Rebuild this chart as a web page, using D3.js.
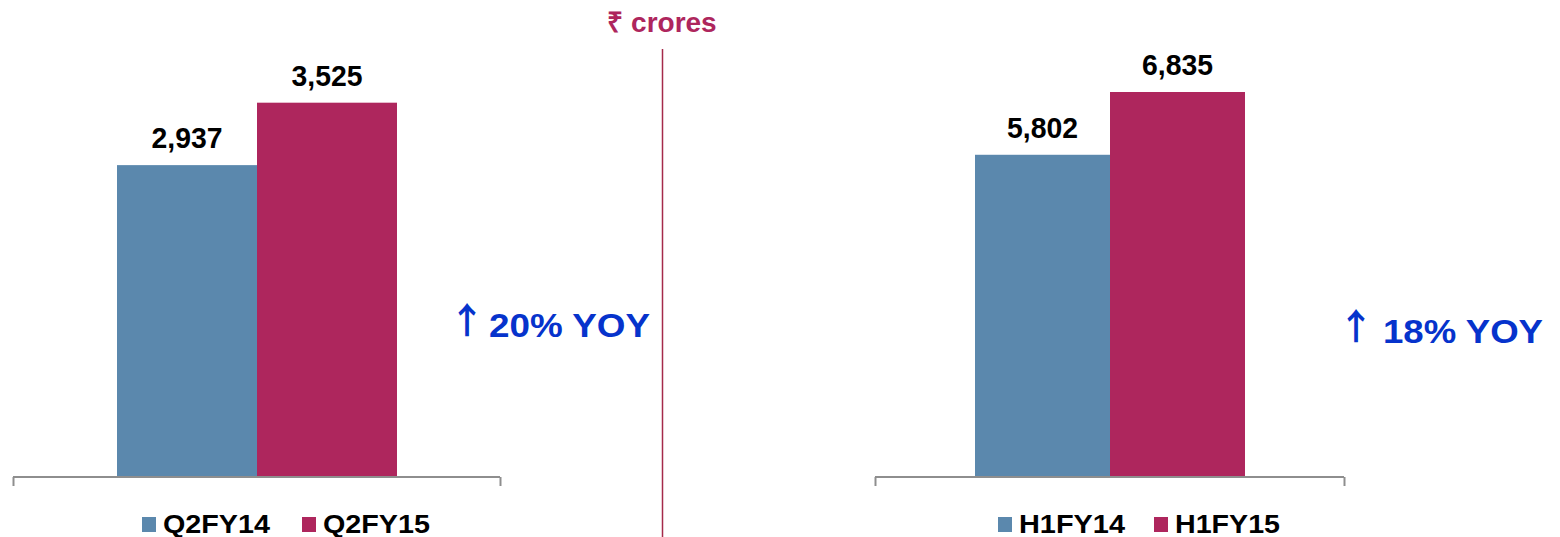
<!DOCTYPE html>
<html><head><meta charset="utf-8">
<script src="https://cdn.jsdelivr.net/npm/d3@7/dist/d3.min.js"></script>
<style>
html,body{margin:0;padding:0;background:#fff;}
svg{display:block;font-family:"Liberation Sans",Arial,sans-serif;}
</style></head>
<body>
<svg id="chart" width="1560" height="537"></svg>
<script>
// ---- data ----
const quarterCategories = ["Q2FY14", "Q2FY15"];
const quarterValues = [2937, 3525];
const halfCategories = ["H1FY14", "H1FY15"];
const halfValues = [5802, 6835];
const growthLabels = ["20% YOY", "18% YOY"];
const growthArrow = "↑";
const unitLabel = "₹ crores";

// ---- styles ----
const seriesColors = ["#5B88AD", "#AE265D"];
const accent = "#AE265D";
const growthColor = "#0633CC";
const axisColor = "#8E8E8E";

const svg = d3.select("#chart");
const baseY = 477, topY = 48;

const panels = [
  { cats: quarterCategories, vals: quarterValues, growth: growthLabels[0],
    axis: [13, 500], bars: [117, 397], yDomain: [0, 4040],
    legendX: [142, 302], legendLen: [107, 107],
    arrowX: 467, growthX: 489, growthY: 337, growthLen: 161 },
  { cats: halfCategories, vals: halfValues, growth: growthLabels[1],
    axis: [875, 1344], bars: [975, 1245], yDomain: [500, 7559],
    legendX: [998, 1154], legendLen: [106, 105],
    arrowX: 1356, growthX: 1383, growthY: 343, growthLen: 160 }
];

panels.forEach(p => {
  const x = d3.scaleBand().domain(p.cats).range(p.bars).padding(0);
  const y = d3.scaleLinear().domain(p.yDomain).range([baseY, topY]);
  const color = d3.scaleOrdinal().domain(p.cats).range(seriesColors);
  const data = p.cats.map((c, i) => ({ cat: c, val: p.vals[i] }));
  const g = svg.append("g");

  g.selectAll("rect.bar").data(data).join("rect")
    .attr("class", "bar")
    .attr("x", d => x(d.cat))
    .attr("width", x.bandwidth())
    .attr("y", d => y(d.val))
    .attr("height", d => y(p.yDomain[0]) - y(d.val))
    .attr("fill", d => color(d.cat));

  g.selectAll("text.val").data(data).join("text")
    .attr("class", "val")
    .attr("x", d => x(d.cat) + x.bandwidth() / 2)
    .attr("y", d => y(d.val) - 17)
    .attr("text-anchor", "middle")
    .attr("font-size", 30).attr("font-weight", "bold").attr("fill", "#000")
    .attr("textLength", 71).attr("lengthAdjust", "spacingAndGlyphs")
    .text(d => d3.format(",")(d.val));

  // axis line with end ticks
  const ax = d3.scaleLinear().domain([0, 1]).range(p.axis);
  const axisG = g.append("g").attr("transform", `translate(0,${baseY})`)
    .call(d3.axisBottom(ax).tickValues([0, 1]).tickSize(9).tickFormat(""));
  axisG.select(".domain").attr("stroke", axisColor).attr("stroke-width", 2)
    .attr("d", `M${p.axis[0]},0H${p.axis[1]}`);
  axisG.selectAll(".tick line").attr("stroke", axisColor).attr("stroke-width", 2);

  // legend
  const lg = g.selectAll("g.leg").data(data).join("g").attr("class", "leg")
    .attr("transform", (d, i) => `translate(${p.legendX[i]},0)`);
  lg.append("rect").attr("x", 0).attr("y", 517).attr("width", 14).attr("height", 15)
    .attr("fill", d => color(d.cat));
  lg.append("text").attr("x", 21).attr("y", 533)
    .attr("font-size", 25).attr("font-weight", "bold").attr("fill", "#000")
    .attr("textLength", (d, i) => p.legendLen[i]).attr("lengthAdjust", "spacingAndGlyphs")
    .text(d => d.cat);

  // growth annotation
  g.append("text").attr("x", p.arrowX).attr("y", p.growthY - 3)
    .attr("text-anchor", "middle")
    .attr("font-family", "'Noto Sans CJK SC'")
    .attr("fill", growthColor).attr("font-size", 36).attr("font-weight", "bold")
    .text(growthArrow);
  g.append("text").attr("x", p.growthX).attr("y", p.growthY)
    .attr("fill", growthColor).attr("font-size", 34).attr("font-weight", "bold")
    .attr("textLength", p.growthLen).attr("lengthAdjust", "spacingAndGlyphs")
    .text(p.growth);
});

// divider and unit
svg.append("line").attr("x1", 662.5).attr("x2", 662.5).attr("y1", 49).attr("y2", 537)
  .attr("stroke", "#A52A4A").attr("stroke-width", 1.5);
svg.append("text").attr("x", 662).attr("y", 32).attr("text-anchor", "middle")
  .attr("font-size", 28).attr("font-weight", "bold").attr("fill", accent)
  .text(unitLabel);
</script>
</body></html>
